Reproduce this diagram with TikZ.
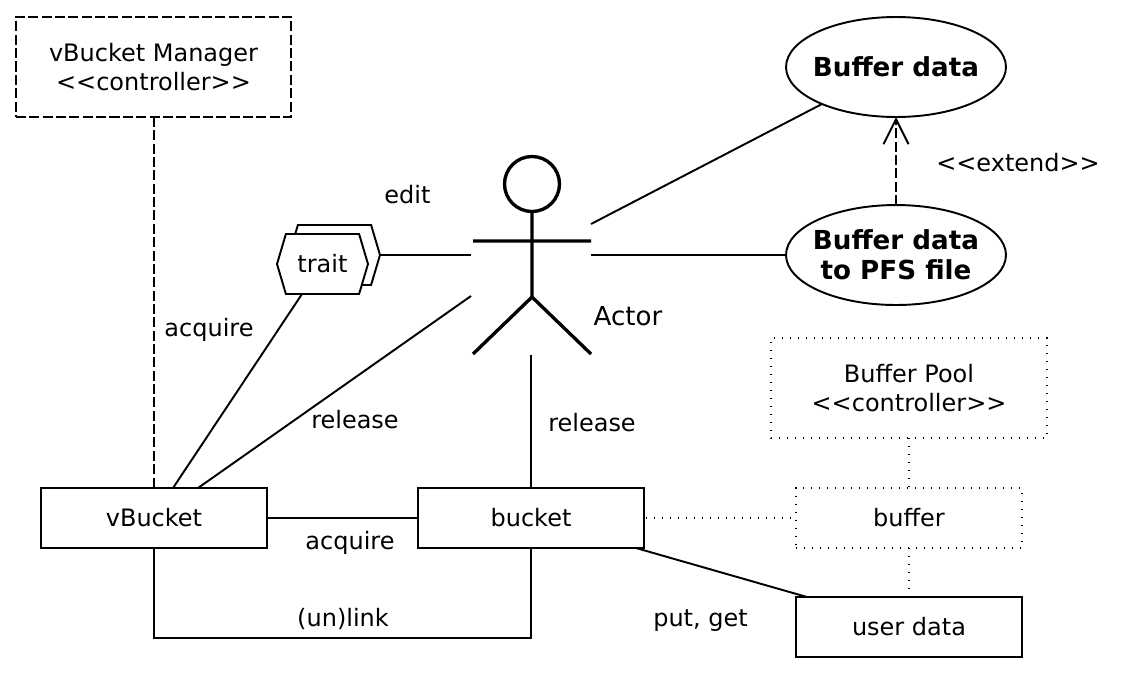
\documentclass[tikz,border=0pt]{standalone}
\usepackage{fontspec}
\setmainfont{DejaVu Sans}
\usetikzlibrary{arrows.meta,shapes.geometric,shapes.symbols}
\tikzset{
  lbl/.style={font=\fontsize{13.65}{16.2}\selectfont,align=center,inner sep=0pt},
  box/.style={lbl,draw,line width=1.1pt,outer sep=0pt,minimum width=4.52cm,minimum height=1.2cm},
  bigbox/.style={box,minimum width=5.52cm,minimum height=2cm},
  usecase/.style={lbl,draw,ellipse,line width=1.1pt,outer sep=0pt,inner sep=-0.12cm,minimum width=4.4cm,minimum height=2cm,font=\fontsize{14.9}{17}\selectfont\bfseries},
  hex/.style={lbl,draw,fill=white,line width=1.1pt,outer sep=0pt,signal,signal to=east and west,signal pointer angle=147,minimum width=1.82cm,minimum height=1.2cm},
  conn/.style={line width=1.1pt},
  dashline/.style={dash pattern=on 5.7pt off 1.9pt},
  dotline/.style={line width=0.9pt,dash pattern=on 0.8pt off 3.75pt},
  stick/.style={line width=1.9pt}
}
\begin{document}
\begin{tikzpicture}[x=0.02cm,y=-0.02cm]
    \useasboundingbox (0,0) rectangle (1122,674);
    % actor
    \node[circle,draw,stick,minimum size=1.1cm,inner sep=0pt,outer sep=0pt] (head) at (532,184) {};
    \coordinate (armL) at (473,241); \coordinate (armR) at (591,241);
    \coordinate (hip) at (532,297);
    \coordinate (footL) at (473,354); \coordinate (footR) at (591,354);
    \draw[stick] (head.south) -- (hip) (armL) -- (armR) (footL) -- (hip) -- (footR);
    \node[lbl,font=\fontsize{14.85}{17}\selectfont] (actor) at (628,316) {Actor};
    % boxes
    \node[box,dashline,minimum width=5.5cm,minimum height=2cm] (manager) at (153.5,67) {vBucket Manager\\<{}<controller>{}>};
    \node[box] (vbucket) at (154,518) {vBucket};
    \node[box] (bucket) at (531,518) {bucket};
    \node[box,dotline] (buffer) at (909,518) {buffer};
    \node[box] (userdata) at (909,627) {user data};
    \node[bigbox,dotline] (pool) at (909,388) {Buffer Pool\\<{}<controller>{}>};
    \node[usecase] (bufdata) at (896,67) {Buffer data};
    \node[usecase] (pfs) at (896,255) {Buffer data\\to PFS file};
    \node[hex] (traitback) at (334.5,255) {};
    \node[hex] (trait) at (322.5,264) {trait};
    % connectors
    \coordinate (seeL) at (471,255); \coordinate (seeLow) at (471,296);
    \coordinate (seeR) at (591,255); \coordinate (seeUp) at (591,224);
    \coordinate (seeDown) at (531,355);
    \coordinate (vbA) at (173,488); \coordinate (vbB) at (198,488);
    \coordinate (trS) at (302,294); \coordinate (bdS) at (822,104);
    \coordinate (bkE) at (646,518); \coordinate (bkS) at (636,548); \coordinate (udN) at (807,597);
    \draw[conn,dashline] (vbucket.north |- manager.south) -- (vbucket.north);
    \draw[conn] (trS) -- (vbA);
    \draw[conn] (seeLow) -- (vbB);
    \draw[conn] (traitback.east) -- (seeL);
    \draw[conn] (seeUp) -- (bdS);
    \draw[conn] (seeR) -- (pfs.west);
    \draw[conn] (seeDown) -- (bucket.north);
    \draw[conn] (vbucket.east) -- (bucket.west);
    \draw[conn] (vbucket.south) |- (342,638) -| (bucket.south);
    \draw[conn,dotline] (bkE) -- (buffer.west);
    \draw[conn] (bkS) -- (udN);
    \draw[conn,dotline] (pool.south) -- (buffer.north);
    \draw[conn,dotline] (buffer.south) -- (userdata.north);
    \draw[conn,dashline,-{Straight Barb[length=0.5cm,width=0.5cm]}] (pfs.north) -- (bufdata.south);
    % labels
    \foreach \x/\y/\n/\t in {407.5/195/edit/edit,209/330/acqA/acquire,355/420/relA/release,592/423/relB/release,
      350/543/acqB/acquire,343/619/unlink/(un)link,700.5/621/putget/{put, get},1018/162.5/extend/<{}<extend>{}>}
      \node[lbl] (\n) at (\x,\y) {\t};
  \end{tikzpicture}
\end{document}
